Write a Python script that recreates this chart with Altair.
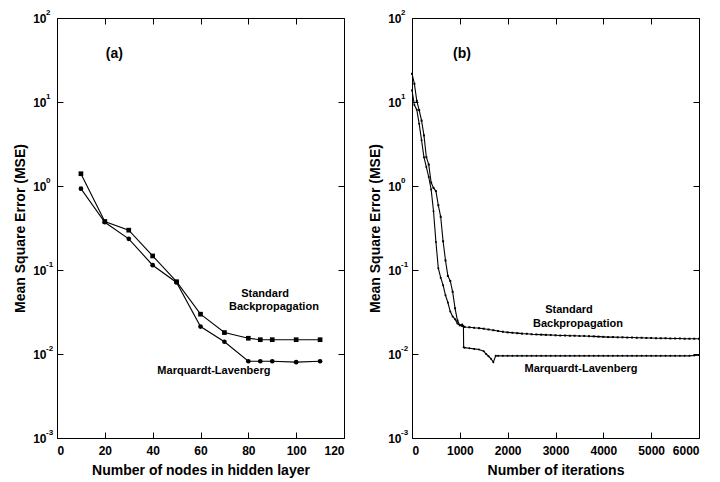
import altair as alt
import pandas as pd

FONT = "Liberation Sans"

# ---------------- Panel (a): MSE vs number of hidden nodes ----------------
nodes = [10, 20, 30, 40, 50, 60, 70, 80, 85, 90, 100, 110]
sbp_a = [1.40, 0.378, 0.298, 0.147, 0.0726, 0.0298, 0.0180, 0.0154, 0.0148, 0.0148, 0.0148, 0.0148]
ml_a = [0.93, 0.37, 0.235, 0.114, 0.071, 0.0212, 0.0140, 0.0082, 0.0082, 0.0082, 0.0080, 0.0082]

# ---------------- Panel (b): MSE vs iterations ----------------
iter_sbp = [0, 50, 100, 150, 200, 250, 300, 350, 400, 450, 500, 550, 600, 650, 700, 750, 800,
            850, 900, 950, 1000, 1050,
            1100, 1200, 1300, 1400, 1500, 1600, 1700, 1800, 1900, 2000, 2100, 2200, 2300, 2400,
            2500, 2600, 2700, 2800, 2900, 3000, 3100, 3200, 3300, 3400, 3500, 3600, 3700, 3800,
            3900, 4000, 4100, 4200, 4300, 4400, 4500, 4600, 4700, 4800, 4900, 5000, 5100, 5200,
            5300, 5400, 5500, 5600, 5700, 5800, 5900, 6000]
sbp_b = [21.7, 16.5, 10.3, 8.0, 6.0, 4.0, 2.2, 1.8, 1.1, 0.95, 0.87, 0.59, 0.43, 0.22, 0.13, 0.085,
         0.074, 0.055, 0.035, 0.025, 0.022, 0.0215,
         0.0210, 0.0208, 0.0205, 0.0203, 0.0200, 0.0196, 0.0192, 0.0188, 0.0184, 0.0181, 0.0179,
         0.0177, 0.0175, 0.0174, 0.0172, 0.0171, 0.0170, 0.0169, 0.0168, 0.0167, 0.0166, 0.0166,
         0.0165, 0.0165, 0.0164, 0.0164, 0.0163, 0.0162, 0.0161, 0.0160, 0.0159, 0.0159, 0.0158,
         0.0158, 0.0157, 0.0157, 0.0156, 0.0156, 0.0155, 0.0155, 0.0154, 0.0154, 0.0154, 0.0153,
         0.0153, 0.0153, 0.0152, 0.0152, 0.0152, 0.0152]

iter_ml = [0, 50, 100, 150, 200, 250, 300, 350, 400, 450, 500, 550, 600, 650, 700, 750, 800,
           850, 900, 950, 1000, 1050, 1075, 1080, 1100, 1200, 1300, 1400, 1500, 1550, 1600, 1650,
           1700, 1750, 1800, 1900, 2000, 2100, 2200, 2300, 2400, 2500, 2600, 2700, 2800, 2900,
           3000, 3100, 3200, 3300, 3400, 3500, 3600, 3700, 3800, 3900, 4000, 4100, 4200, 4300,
           4400, 4500, 4600, 4700, 4800, 4900, 5000, 5100, 5200, 5300, 5400, 5500, 5600, 5700,
           5800, 5900, 6000]
ml_b = [13.8, 9.2, 8.1, 5.5, 3.5, 2.2, 1.68, 1.28, 0.91, 0.50, 0.215, 0.105, 0.081, 0.066, 0.050,
        0.041, 0.032, 0.028, 0.026, 0.023, 0.022, 0.0225, 0.0215, 0.0120, 0.0119, 0.0117, 0.0115,
        0.0113, 0.0108, 0.0100, 0.0094, 0.0088, 0.0080, 0.0095, 0.0095, 0.0095, 0.0095, 0.0095,
        0.0095, 0.0095, 0.0095, 0.0095, 0.0095, 0.0095, 0.0095, 0.0095, 0.0095, 0.0095, 0.0095,
        0.0095, 0.0095, 0.0095, 0.0095, 0.0095, 0.0095, 0.0095, 0.0095, 0.0095, 0.0095, 0.0095,
        0.0095, 0.0095, 0.0095, 0.0095, 0.0095, 0.0095, 0.0095, 0.0095, 0.0095, 0.0095, 0.0095,
        0.0095, 0.0095, 0.0095, 0.0095, 0.0096, 0.0097]

# axis ticks
y_ticks = [0.001, 0.01, 0.1, 1, 10, 100]
y_exps = ["-3", "-2", "-1", "0", "1", "2"]
x_ticks_a = [0, 20, 40, 60, 80, 100, 120]
x_ticks_b = [0, 1000, 2000, 3000, 4000, 5000, 6000]

# annotations (text, x, y)
anno_a_text = ["(a)", "Standard", "Backpropagation", "Marquardt-Lavenberg"]
anno_a_x = [24, 87, 90.7, 65.6]
anno_a_y = [37, 0.0524, 0.0366, 0.0063]
anno_a_size = [14, 11, 11, 11]

anno_b_text = ["(b)", "Standard", "Backpropagation", "Marquardt-Lavenberg"]
anno_b_x = [1045, 3282, 3470, 3533]
anno_b_y = [37, 0.0331, 0.0226, 0.0066]
anno_b_size = [14, 11, 11, 11]

W, H = 287, 420


def panel(df, xdom, xticks, xtitle, ytitle, anno, shapes, psize, lw):
    xscale = alt.Scale(domain=xdom, nice=False, zero=False)
    yscale = alt.Scale(type="log", domain=[0.001, 100], nice=False)
    lab = dict(labelFont=FONT, labelFontWeight="bold", labelFontSize=12, labelColor="black",
               titleFont=FONT, titleFontWeight="bold", titleFontSize=14, titleColor="black",
               tickColor="black", tickWidth=1, grid=False)
    base = alt.Chart(df)
    lines = base.mark_line(color="black", strokeWidth=lw).encode(
        x=alt.X("x:Q", scale=xscale,
                axis=alt.Axis(values=xticks, title=xtitle, orient="bottom", offset=-6,
                              tickSize=6, domain=False, labelPadding=7, titlePadding=7,
                              format="d", **lab)),
        y=alt.Y("y:Q", scale=yscale,
                axis=alt.Axis(values=y_ticks, labelExpr="'10'", title=ytitle, orient="left",
                              offset=-6, tickSize=6, domain=False, labelPadding=11,
                              titlePadding=5, **lab)),
        detail="series:N",
    )
    points = base.mark_point(filled=True, color="black", size=psize, opacity=1).encode(
        x=alt.X("x:Q", axis=None),
        y=alt.Y("y:Q", axis=None),
        shape=alt.Shape("series:N", scale=alt.Scale(domain=["SBP", "ML"], range=shapes),
                        legend=None),
    )
    frame_df = pd.DataFrame({"fx": [xdom[0], xdom[1]], "fy": [0.01, 0.01]})
    frame = alt.Chart(frame_df).mark_point(opacity=0).encode(
        x=alt.X("fx:Q", axis=alt.Axis(values=xticks, orient="top", labels=False, title=None,
                                       offset=-6, tickSize=6, domain=False, tickColor="black",
                                       grid=False)),
        y=alt.Y("fy:Q", axis=alt.Axis(values=y_ticks, orient="right", labels=False, title=None,
                                       offset=-6, tickSize=6, domain=False, tickColor="black",
                                       grid=False)),
    )
    exp_df = pd.DataFrame({"v": y_ticks, "e": y_exps})
    exps = alt.Chart(exp_df).mark_text(align="left", baseline="middle", dy=-5, fontSize=8,
                                       fontWeight="bold", font=FONT, color="black").encode(
        x=alt.value(-11),
        y=alt.Y("v:Q", axis=None),
        text="e:N",
    )
    texts = alt.Chart(anno).mark_text(align="center", baseline="middle", fontWeight="bold",
                                      font=FONT, color="black").encode(
        x=alt.X("tx:Q", axis=None),
        y=alt.Y("ty:Q", axis=None),
        text="t:N",
        size=alt.Size("s:Q", scale=None, legend=None),
    )
    return alt.layer(lines, points, frame, exps, texts).properties(
        width=W, height=H
    ).resolve_axis(x="independent", y="independent")


df_a = pd.concat([
    pd.DataFrame({"x": nodes, "y": sbp_a, "series": "SBP"}),
    pd.DataFrame({"x": nodes, "y": ml_a, "series": "ML"}),
])
df_b = pd.concat([
    pd.DataFrame({"x": iter_sbp, "y": sbp_b, "series": "SBP"}),
    pd.DataFrame({"x": iter_ml, "y": ml_b, "series": "ML"}),
])
anno_a = pd.DataFrame({"t": anno_a_text, "tx": anno_a_x, "ty": anno_a_y, "s": anno_a_size})
anno_b = pd.DataFrame({"t": anno_b_text, "tx": anno_b_x, "ty": anno_b_y, "s": anno_b_size})

pa = panel(df_a, [0, 120], x_ticks_a, "Number of  nodes in hidden layer",
           "Mean  Square  Error (MSE)", anno_a, ["square", "circle"], 22, 1.1)
pb = panel(df_b, [0, 6000], x_ticks_b, "Number  of  iterations",
           "Mean  Square  Error (MSE)", anno_b, ["circle", "circle"], 4, 1.1)

chart = alt.hconcat(pa, pb, spacing=20).properties(
    padding={"left": 5, "top": 0, "right": 0, "bottom": 0},
    background="white",
).configure_view(
    stroke="black", strokeWidth=1
)

chart.save("out.html", embed_options={"renderer": "svg", "actions": False})
